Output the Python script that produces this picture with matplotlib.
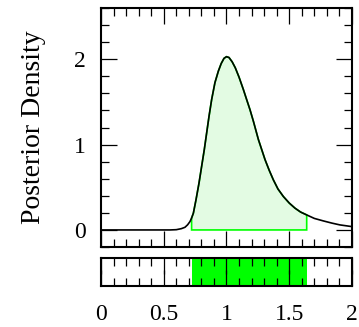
import matplotlib
matplotlib.use("Agg")
import matplotlib.pyplot as plt
from matplotlib.ticker import MultipleLocator, FormatStrFormatter, FuncFormatter, NullFormatter
import numpy as np

plt.rcParams['font.family'] = ['Liberation Serif', 'DejaVu Serif']

# posterior density
dens_x = [0.000, 0.550, 0.600, 0.640, 0.669, 0.690, 0.709, 0.722, 0.736, 0.757,
          0.781, 0.802, 0.823, 0.842, 0.861, 0.882, 0.908, 0.935, 0.958, 0.980,
          1.000, 1.020, 1.045, 1.070, 1.100, 1.134, 1.160, 1.187, 1.214, 1.254,
          1.307, 1.340, 1.373, 1.410, 1.453, 1.500, 1.546, 1.590, 1.639, 1.700,
          1.771, 1.840, 1.904, 2.000]
dens_y = [0.000, 0.000, 0.003, 0.015, 0.031, 0.060, 0.098, 0.140, 0.196, 0.353,
          0.549, 0.745, 0.940, 1.137, 1.333, 1.530, 1.726, 1.860, 1.950, 2.010,
          2.030, 2.020, 1.970, 1.900, 1.790, 1.647, 1.530, 1.410, 1.275, 1.060,
          0.824, 0.700, 0.588, 0.480, 0.392, 0.315, 0.255, 0.210, 0.176, 0.135,
          0.106, 0.080, 0.059, 0.039]
hpd_lo, hpd_hi = 0.722, 1.639

fill_col = '#e3fbe3'
edge_col = '#00ff00'

fig = plt.figure(figsize=(3.59, 3.27), dpi=100)
ax = fig.add_axes([0.2813, 0.2446, 0.6992, 0.7309])
ax2 = fig.add_axes([0.2813, 0.1254, 0.6992, 0.0856])

x = np.array(dens_x)
y = np.array(dens_y)
m = (x >= hpd_lo) & (x <= hpd_hi)
px = np.concatenate([[x[m][0]], x[m], [x[m][-1]]])
py = np.concatenate([[0], y[m], [0]])
ax.fill(px, py, facecolor=fill_col, edgecolor=edge_col, lw=1.2, zorder=2)
ax.plot(x, y, color='black', lw=1.2, zorder=3)

ax.set_xlim(0, 2)
ax.set_ylim(-0.2, 2.6)
ax.yaxis.set_major_locator(MultipleLocator(1))
ax.yaxis.set_minor_locator(MultipleLocator(0.2))
ax.yaxis.set_major_formatter(FormatStrFormatter('%g'))
ax.set_ylabel('Posterior Density', fontsize=20, labelpad=20)

ax2.axvspan(hpd_lo, hpd_hi, color=edge_col, lw=0)
ax2.set_xlim(0, 2)
ax2.set_ylim(0, 1)
ax2.set_yticks([])
ax2.xaxis.set_major_formatter(FuncFormatter(lambda v, p: '%g' % v))

for a in (ax, ax2):
    a.xaxis.set_major_locator(MultipleLocator(0.5))
    a.xaxis.set_minor_locator(MultipleLocator(0.1))
    a.tick_params(which='both', direction='in', top=True, right=(a is ax), width=0.9)
    a.tick_params(which='major', length=11.5)
    a.tick_params(which='minor', length=5.8)
    a.tick_params(labelsize=17)
    for s in a.spines.values():
        s.set_linewidth(1.5)

ax.xaxis.set_major_formatter(NullFormatter())
ax.tick_params(axis='y', pad=11)
ax2.tick_params(axis='x', pad=13)

fig.savefig('out.png', dpi=100)
